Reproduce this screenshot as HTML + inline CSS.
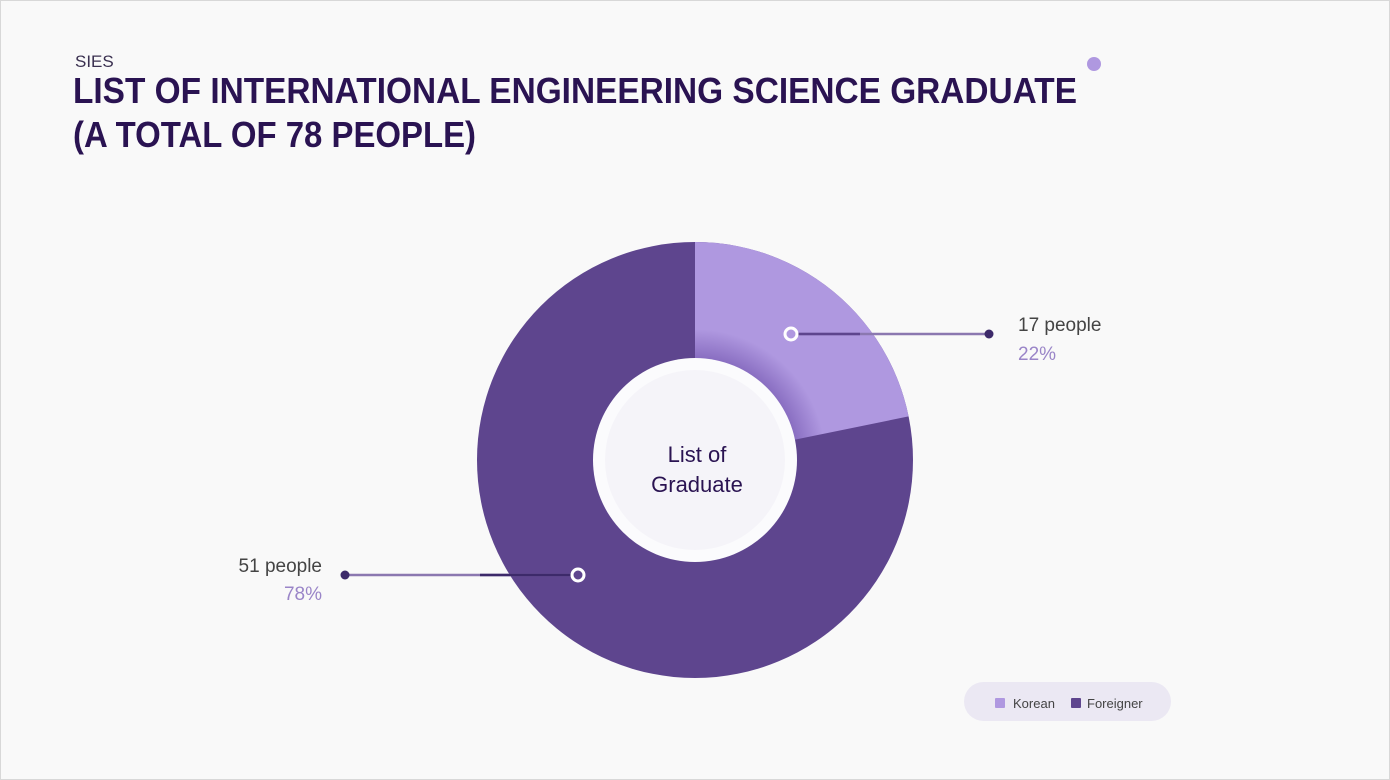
<!DOCTYPE html>
<html><head><meta charset="utf-8"><style>
html,body{margin:0;padding:0;background:#fff}
svg{display:block}
text{font-family:"Liberation Sans","Noto Sans CJK KR",sans-serif}
</style></head><body>
<svg width="1390" height="780" viewBox="0 0 1390 780" xmlns="http://www.w3.org/2000/svg">
<defs>
<radialGradient id="sh" cx="695" cy="460" r="218" gradientUnits="userSpaceOnUse">
<stop offset="0.47" stop-color="#8a6fc2"/>
<stop offset="0.6" stop-color="#af98e0"/>
<stop offset="1" stop-color="#af98e0"/>
</radialGradient>
</defs>
<rect x="0.5" y="0.5" width="1389" height="779" fill="#f9f9f9" stroke="#d8d8d8"/>
<text x="75" y="67" font-size="17" fill="#3a3050">SIES</text>
<text x="73" y="103" font-size="36" font-weight="bold" fill="#2a1352" textLength="1004" lengthAdjust="spacingAndGlyphs">LIST OF INTERNATIONAL ENGINEERING SCIENCE GRADUATE</text>
<text x="73" y="147" font-size="36" font-weight="bold" fill="#2a1352" textLength="403" lengthAdjust="spacingAndGlyphs">(A TOTAL OF 78 PEOPLE)</text>
<circle cx="1094" cy="64" r="7" fill="#af98e0"/>
<circle cx="695" cy="460" r="218" fill="#5e458e"/>
<path d="M695 460 L695 242 A218 218 0 0 1 908.6 416.4 Z" fill="url(#sh)"/>
<circle cx="695" cy="460" r="102" fill="#fbfbfd"/>
<circle cx="695" cy="460" r="90" fill="#f5f4f9"/>
<text x="697" y="462" font-size="22" fill="#2a1352" text-anchor="middle">List of</text>
<text x="697" y="492" font-size="22" fill="#2a1352" text-anchor="middle">Graduate</text>
<line x1="791" y1="334" x2="989" y2="334" stroke="#8b78b0" stroke-width="2.5"/>
<line x1="791" y1="334" x2="860" y2="334" stroke="#5e458e" stroke-width="2.5"/>
<circle cx="791" cy="334" r="6" fill="#af98e0" stroke="#fff" stroke-width="3"/>
<circle cx="989" cy="334" r="4.5" fill="#3d2a6a"/>
<text x="1018" y="331" font-size="19" fill="#444">17 people</text>
<text x="1018" y="360" font-size="19" fill="#9a85c8">22%</text>
<line x1="345" y1="575" x2="578" y2="575" stroke="#8b78b0" stroke-width="2.5"/>
<line x1="480" y1="575" x2="578" y2="575" stroke="#3d2a6a" stroke-width="2.5"/>
<circle cx="578" cy="575" r="6" fill="#5e458e" stroke="#fff" stroke-width="3"/>
<circle cx="345" cy="575" r="4.5" fill="#3d2a6a"/>
<text x="322" y="572" font-size="19" fill="#444" text-anchor="end">51 people</text>
<text x="322" y="600" font-size="19" fill="#9a85c8" text-anchor="end">78%</text>
<rect x="964" y="682" width="207" height="39" rx="19.5" fill="#ebe8f3"/>
<rect x="995" y="698" width="10" height="10" rx="1" fill="#af98e0"/>
<text x="1013" y="708" font-size="13" fill="#444">Korean</text>
<rect x="1071" y="698" width="10" height="10" rx="1" fill="#5e458e"/>
<text x="1087" y="708" font-size="13" fill="#444">Foreigner</text>
</svg>
</body></html>
